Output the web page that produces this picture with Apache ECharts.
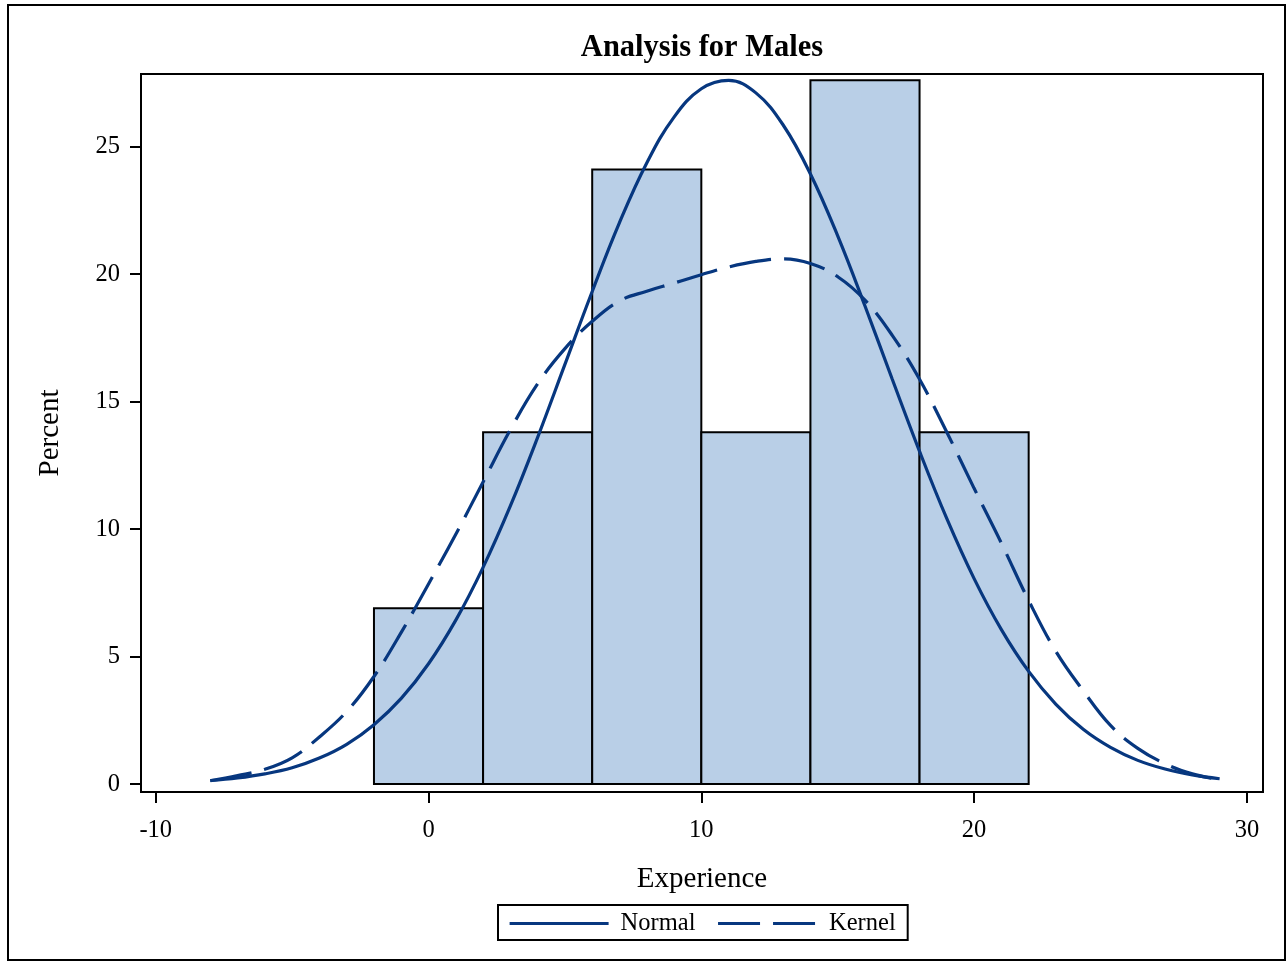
<!DOCTYPE html>
<html>
<head>
<meta charset="utf-8">
<script src="https://cdn.jsdelivr.net/npm/echarts@6/dist/echarts.min.js"></script>
<style>
  html, body { margin: 0; padding: 0; background: #fff; }
  #chart { width: 1288px; height: 962px; }
</style>
</head>
<body>
<div id="chart"></div>
<script>
// ---- data ----
const titleText = 'Analysis for Males';
const xName = 'Experience';
const yName = 'Percent';
const binLower = [-2, 2, 6, 10, 14, 18];
const binUpper = [2, 6, 10, 14, 18, 22];
const binPercent = [6.9, 13.8, 24.1, 13.8, 27.6, 13.8];
const curveX = [-8, -7, -6, -5, -4, -3, -2, -1, 0, 1, 2, 3, 4, 5, 6, 7, 8, 9, 10,
                11, 12, 13, 14, 15, 16, 17, 18, 19, 20, 21, 22, 23, 24, 25, 26, 27, 28, 29];
const normalPct = [0.14, 0.24, 0.40, 0.64, 1.02, 1.56, 2.33, 3.36, 4.72, 6.43, 8.50, 10.91,
                   13.60, 16.46, 19.32, 22.02, 24.36, 26.16, 27.27, 27.60, 27.11, 25.85, 23.93,
                   21.50, 18.75, 15.88, 13.05, 10.41, 8.06, 6.06, 4.42, 3.13, 2.15, 1.44, 0.93,
                   0.59, 0.36, 0.21];
const kernelPct = [0.13, 0.33, 0.58, 1.03, 1.85, 2.85, 4.22, 5.95, 7.85, 9.8, 11.85, 13.9,
                   15.7, 17.08, 18.15, 18.95, 19.33, 19.65, 19.98, 20.28, 20.5, 20.6, 20.42,
                   19.9, 18.98, 17.6, 15.88, 13.8, 11.6, 9.45, 7.2, 5.2, 3.66, 2.3, 1.4,
                   0.8, 0.4, 0.17];
const xTickValues = [-10, 0, 10, 20, 30];
const yTickValues = [0, 5, 10, 15, 20, 25];
const seriesNames = ['Normal', 'Kernel'];

// ---- styling ----
const FONT = '"Liberation Serif", "Times New Roman", "DejaVu Serif", serif';
const LINE_COLOR = '#07377F';
const BAR_FILL = '#B9CFE7';
const LINE_W = 3.2;
const DASH = [42, 13];

const histData = binLower.map((lo, i) => [lo, binUpper[i], binPercent[i]]);
const normalData = curveX.map((x, i) => [x, normalPct[i]]);
const kernelData = curveX.map((x, i) => [x, kernelPct[i]]);

const chart = echarts.init(document.getElementById('chart'), null, { renderer: 'canvas' });

chart.setOption({
  animation: false,
  backgroundColor: '#ffffff',
  textStyle: { fontFamily: FONT, color: '#000' },
  title: {
    text: titleText,
    left: 702,
    top: 33,
    padding: 0,
    textAlign: 'center',
    textStyle: { fontFamily: FONT, fontSize: 30.5, fontWeight: 'bold', color: '#000', lineHeight: 30 }
  },
  grid: {
    left: 141, top: 74, right: 25, bottom: 170,
    show: true, borderColor: '#000', borderWidth: 2, backgroundColor: 'transparent'
  },
  legend: {
    data: [
      { name: seriesNames[0], lineStyle: { color: LINE_COLOR, width: LINE_W, type: 'solid' } },
      { name: seriesNames[1], lineStyle: { color: LINE_COLOR, width: LINE_W, type: DASH } }
    ],
    left: 498,
    top: 905,
    orient: 'horizontal',
    padding: [6, 12, 4, 10],
    itemGap: 21,
    itemWidth: 99,
    itemHeight: 24,
    borderColor: '#000',
    borderWidth: 2,
    backgroundColor: '#fff',
    selectedMode: false,
    itemStyle: { opacity: 0, borderWidth: 0 },
    formatter: function (name) { return '{t|' + name + '}'; },
    textStyle: {
      fontFamily: FONT, fontSize: 24.5, color: '#000',
      rich: { t: { fontFamily: FONT, fontSize: 24.5, color: '#000', padding: [0, 0, 0, 7] } }
    }
  },
  xAxis: {
    type: 'value',
    min: -10.54,
    max: 30.59,
    name: xName,
    nameLocation: 'middle',
    nameGap: 73,
    nameTextStyle: { fontFamily: FONT, fontSize: 29, color: '#000' },
    axisLine: { show: true, onZero: false, lineStyle: { color: '#000', width: 2 } },
    axisTick: { show: true, length: 11, lineStyle: { color: '#000', width: 2 }, customValues: xTickValues },
    axisLabel: { fontFamily: FONT, fontSize: 24.5, color: '#000', margin: 26, customValues: xTickValues },
    splitLine: { show: false }
  },
  yAxis: {
    type: 'value',
    min: -0.31,
    max: 27.85,
    name: yName,
    nameLocation: 'middle',
    nameGap: 76,
    nameTextStyle: { fontFamily: FONT, fontSize: 29, color: '#000' },
    axisLine: { show: true, onZero: false, lineStyle: { color: '#000', width: 2 } },
    axisTick: { show: true, length: 11, lineStyle: { color: '#000', width: 2 }, customValues: yTickValues },
    axisLabel: { fontFamily: FONT, fontSize: 24.5, color: '#000', margin: 21, customValues: yTickValues },
    splitLine: { show: false }
  },
  series: [
    {
      type: 'custom',
      z: 2,
      data: histData,
      encode: { x: [0, 1], y: 2 },
      renderItem: function (params, api) {
        const p0 = api.coord([api.value(0), 0]);
        const p1 = api.coord([api.value(1), api.value(2)]);
        return {
          type: 'rect',
          shape: { x: p0[0], y: p1[1], width: p1[0] - p0[0], height: p0[1] - p1[1] },
          style: { fill: BAR_FILL, stroke: '#000', lineWidth: 2 }
        };
      }
    },
    {
      name: seriesNames[0],
      type: 'line',
      z: 4,
      data: normalData,
      smooth: 0.4,
      symbol: 'none',
      showSymbol: false,
      color: LINE_COLOR,
      lineStyle: { color: LINE_COLOR, width: LINE_W, type: 'solid' }
    },
    {
      name: seriesNames[1],
      type: 'line',
      z: 4,
      data: kernelData,
      smooth: 0.4,
      symbol: 'none',
      showSymbol: false,
      color: LINE_COLOR,
      lineStyle: { color: LINE_COLOR, width: LINE_W, type: DASH }
    }
  ],
  graphic: [
    {
      type: 'rect',
      silent: true,
      z: 100,
      shape: { x: 8, y: 5, width: 1277, height: 955 },
      style: { fill: 'none', stroke: '#000', lineWidth: 2 }
    }
  ]
});
</script>
</body>
</html>
